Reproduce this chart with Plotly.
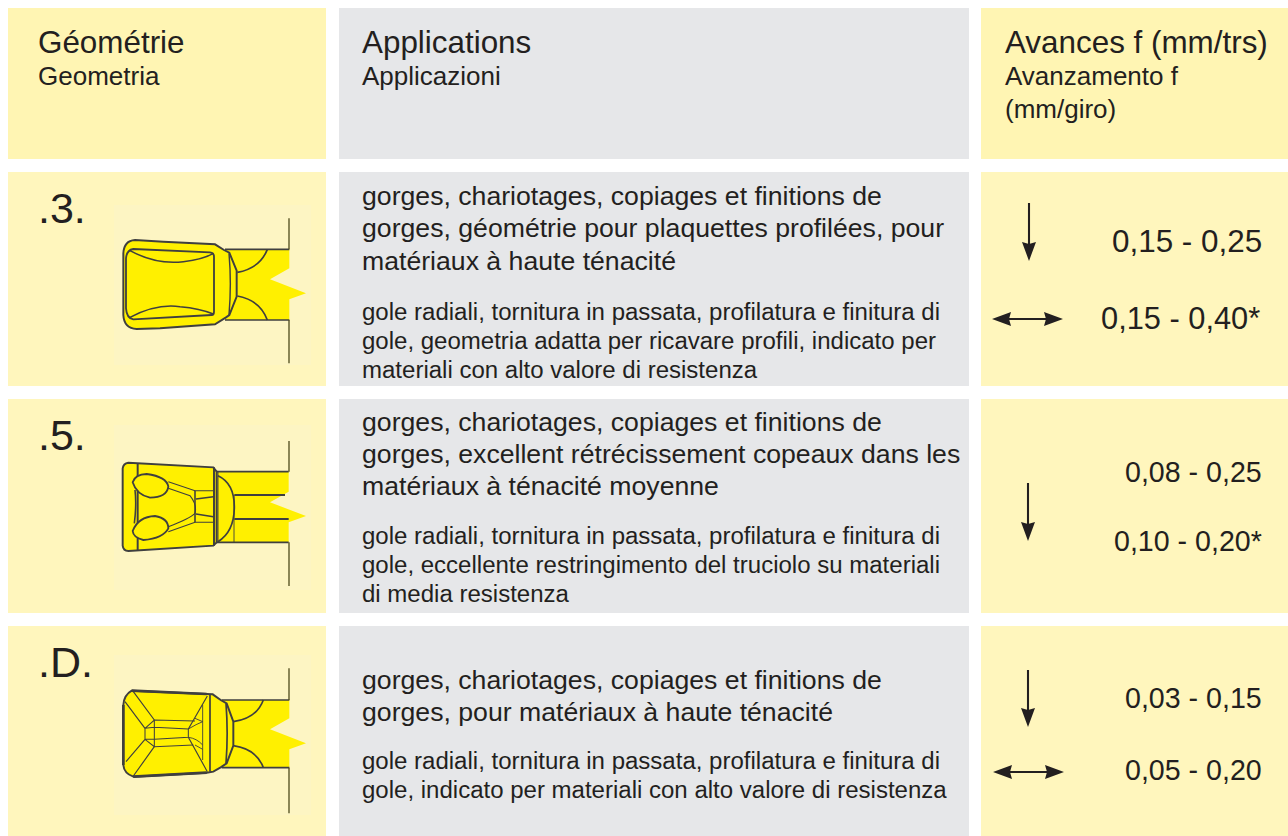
import re
import plotly.graph_objects as go

FONT = "Liberation Sans"
INK = "#231f20"
HEAD_YELLOW = "#fff5b3"
CELL_YELLOW = "#fff6bd"
CELL_GREY = "#e6e7e9"
BACKDROP = "#fdf5c3"
METAL = "#fff000"
LINE = "#3f3f3f"
STEM = "#4f4a1c"
CLEAR = "rgba(0,0,0,0)"
WEIGHT = 1.3

# table content
column_x = [(8, 326), (339, 969), (981, 1288)]
row_y = [(8, 159), (172, 386), (399, 613), (626, 836)]
column_fill = [CELL_YELLOW, CELL_GREY, CELL_YELLOW]

header_titles = ["Géométrie", "Applications", "Avances f (mm/trs)"]
header_title_x = [37, 361, 1004]
header_subtitles = [(37, 76, "Geometria"), (361, 76, "Applicazioni"),
                    (1004, 76, "Avanzamento f"), (1004, 109, "(mm/giro)")]

geometry_codes = [".3.", ".5.", ".D."]
geometry_code_y = [208, 435, 662]

french_text = [
    [(196, "gorges, chariotages, copiages et finitions de"),
     (228, "gorges, géométrie pour plaquettes profilées, pour"),
     (261, "matériaux à haute ténacité")],
    [(422, "gorges, chariotages, copiages et finitions de"),
     (454, "gorges, excellent rétrécissement copeaux dans les"),
     (486, "matériaux à ténacité moyenne")],
    [(680, "gorges, chariotages, copiages et finitions de"),
     (712, "gorges, pour matériaux à haute ténacité")],
]
italian_text = [
    [(311, "gole radiali, tornitura in passata, profilatura e finitura di"),
     (340, "gole, geometria adatta per ricavare profili, indicato per"),
     (369, "materiali con alto valore di resistenza")],
    [(535, "gole radiali, tornitura in passata, profilatura e finitura di"),
     (564, "gole, eccellente restringimento del truciolo su materiali"),
     (593, "di media resistenza")],
    [(760, "gole radiali, tornitura in passata, profilatura e finitura di"),
     (789, "gole, indicato per materiali con alto valore di resistenza")],
]
feed_labels = ["0,15 - 0,25", "0,15 - 0,40*", "0,08 - 0,25", "0,10 - 0,20*", "0,03 - 0,15", "0,05 - 0,20"]
feed_y = [241, 318, 472, 541, 698, 770]
feed_right = [1263, 1261, 1263, 1263, 1263, 1263]
feed_size = [31.4, 30.8, 28.6, 28.6, 28.6, 28.6]

down_arrows = [(1029, 203, 261), (1028, 483, 541), (1028, 670, 727)]
side_arrows = [(992, 1063, 319), (993, 1064, 772)]


def local(ox, oy, path):
    """Map a path drawn in 3x local units onto the page."""
    out, is_x = [], True
    for tok in re.findall(r"[A-Za-z]|-?\d+\.?\d*", path):
        if tok.isalpha():
            out.append(tok)
        else:
            v = float(tok) / 3 + (ox if is_x else oy)
            out.append(f"{v:.2f}")
            is_x = not is_x
    return " ".join(out)


shapes = []


def area(path, fill, line=None, width=0):
    shapes.append(dict(type="path", path=path, fillcolor=fill, xref="x", yref="y",
                       line=dict(color=line or fill, width=width * WEIGHT)))


def stroke(path, width=1.2, color=LINE):
    shapes.append(dict(type="path", path=path, xref="x", yref="y", fillcolor=CLEAR,
                       line=dict(color=color, width=width * WEIGHT)))


def rect(x0, y0, x1, y1, fill):
    shapes.append(dict(type="rect", x0=x0, x1=x1, y0=y0, y1=y1, xref="x", yref="y",
                       fillcolor=fill, line=dict(width=0)))


for i, (y0, y1) in enumerate(row_y):
    for (x0, x1), fill in zip(column_x, column_fill):
        rect(x0, y0, x1, y1, HEAD_YELLOW if (i == 0 and fill == CELL_YELLOW) else fill)

# backdrops behind the insert drawings
rect(114, 205, 311, 365, BACKDROP)
rect(114, 425, 311, 590, BACKDROP)
rect(114, 655, 311, 815, BACKDROP)

# --- insert .3.
o = (100, 200)
area(local(*o, "M 375 148 L 568 148 L 568 205 L 510 238 L 618 280 L 568 298 L 568 360 L 375 360 Z"), METAL)
stroke(local(*o, "M 375 148 L 568 148 M 375 360 L 568 360"), 1.3)
stroke(local(*o, "M 567 55 L 567 148 M 567 360 L 567 490"), 1.0, STEM)
area(local(*o, "M 105 120 Q 72 122 70 160 L 70 345 Q 72 385 110 387 L 180 385 L 345 373 L 378 352 L 388 345 L 410 290 L 410 212 L 388 158 L 372 150 L 345 133 L 190 125 Z"), METAL, LINE, 1.5)
stroke(local(*o, "M 412 217 Q 480 205 502 148 M 412 288 Q 480 300 502 360"), 1.3)
stroke(local(*o, "M 387 160 Q 395 250 387 345"), 1.1)
stroke(local(*o, "M 100 147 Q 80 150 78 175 L 78 325 Q 80 355 100 358 L 335 345 Q 342 345 342 335 L 342 170 Q 342 158 330 157 Z"), 1.4)
stroke(local(*o, "M 90 152 Q 170 195 250 185 Q 310 178 340 160 M 90 352 Q 170 310 240 320 Q 300 325 340 342"), 1.2)

# --- insert .5.
o = (100, 425)
area(local(*o, "M 350 140 L 566 140 L 566 200 L 510 232 L 618 273 L 566 292 L 566 352 L 350 352 Z"), METAL)
stroke(local(*o, "M 350 140 L 566 140 M 350 352 L 566 352"), 1.3)
stroke(local(*o, "M 403 210 L 555 210 M 403 282 L 566 282"), 1.4)
stroke(local(*o, "M 567 48 L 567 140 M 567 352 L 567 483"), 1.0, STEM)
area(local(*o, "M 85 113 Q 70 115 68 130 L 68 362 Q 70 378 85 378 L 340 362 L 350 352 L 350 140 L 340 127 Z"), METAL, LINE, 1.5)
stroke(local(*o, "M 113 115 L 113 376 M 342 127 L 342 362"), 1.5)
stroke(local(*o, "M 354 140 L 354 352 M 402 210 L 402 352"), 0.7)
stroke(local(*o, "M 354 152 Q 403 175 403 245 Q 403 320 354 350"), 1.3)
area(local(*o, "M 98 172 Q 105 148 140 147 Q 200 155 205 185 Q 200 218 150 218 Q 110 210 98 172 Z"), METAL, LINE, 1.4)
area(local(*o, "M 98 318 Q 115 275 165 273 Q 205 280 205 310 Q 190 340 130 345 Q 100 338 98 318 Z"), METAL, LINE, 1.4)
stroke(local(*o, "M 205 170 L 285 197 L 340 197 M 205 190 L 270 212 Q 292 240 285 265 Q 270 280 205 305 M 205 320 L 285 292 L 340 292"), 0.8)
stroke(local(*o, "M 285 197 L 285 292 M 288 222 L 340 215 M 288 267 L 340 275"), 1.2)
stroke(local(*o, "M 105 195 Q 110 240 103 295"), 1.2)

# --- insert .D.
o = (100, 650)
area(local(*o, "M 365 150 L 568 150 L 568 205 L 510 238 L 618 280 L 568 298 L 568 353 L 365 353 Z"), METAL)
stroke(local(*o, "M 365 150 L 568 150 M 365 353 L 568 353"), 1.3)
stroke(local(*o, "M 567 55 L 567 150 M 567 353 L 567 490"), 1.0, STEM)
area(local(*o, "M 95 122 Q 72 135 70 165 L 70 345 Q 72 370 100 380 L 320 368 L 340 365 L 362 352 L 380 340 L 400 287 L 400 215 L 380 160 L 362 150 L 338 133 L 320 132 Z"), METAL, LINE, 1.5)
stroke(local(*o, "M 95 122 L 320 132 M 70 165 L 70 345 M 100 380 L 320 368"), 2.0)
stroke(local(*o, "M 400 215 Q 470 205 490 150 M 400 287 Q 470 297 490 353"), 1.3)
stroke(local(*o, "M 330 135 L 330 365 M 378 160 Q 385 250 378 340"), 1.3)
stroke(local(*o, "M 100 125 L 163 210 M 75 155 L 135 235 M 78 335 L 135 268 M 100 378 L 163 290 M 322 138 L 265 237 M 322 365 L 265 262"), 0.9)
stroke(local(*o, "M 135 235 L 163 210 L 285 213 M 135 268 L 163 290 L 280 285 M 135 235 L 135 268 M 163 210 L 163 290 M 163 232 L 265 237 L 265 262 L 163 268 M 135 235 L 163 232 M 135 268 L 163 268"), 0.8)
stroke(local(*o, "M 265 237 Q 290 222 308 215 M 265 262 Q 290 265 308 285 M 285 205 L 308 215 M 285 285 L 308 298 M 308 165 L 308 330"), 0.7)

# --- feed direction arrows
for x, y0, y1 in down_arrows:
    stroke(f"M {x} {y0} L {x} {y1 - 12}", 1.6, INK)
    area(f"M {x - 7} {y1 - 19} L {x} {y1 - 17} L {x + 7} {y1 - 19} L {x} {y1} Z", INK)
for x0, x1, y in side_arrows:
    stroke(f"M {x0 + 12} {y} L {x1 - 12} {y}", 1.6, INK)
    area(f"M {x0} {y} L {x0 + 19} {y - 7} L {x0 + 17} {y} L {x0 + 19} {y + 7} Z", INK)
    area(f"M {x1} {y} L {x1 - 19} {y - 7} L {x1 - 17} {y} L {x1 - 19} {y + 7} Z", INK)

annotations = []


def label(x, y, text, size, anchor="left"):
    annotations.append(dict(x=x, y=y, text=text, xref="x", yref="y", showarrow=False,
                            xanchor=anchor, yanchor="middle", align=anchor, borderpad=0,
                            font=dict(family=FONT, size=size, color=INK)))


for x, text in zip(header_title_x, header_titles):
    label(x, 42, text, 31.4)
for x, y, text in header_subtitles:
    label(x, y, text, 26)
for y, code in zip(geometry_code_y, geometry_codes):
    label(37, y, code, 43)
for block in french_text:
    for y, text in block:
        label(361, y, text, 26.65)
for block in italian_text:
    for y, text in block:
        label(361, y, text, 24.03)
for y, r, size, text in zip(feed_y, feed_right, feed_size, feed_labels):
    label(r, y, text, size, "right")

fig = go.Figure()
fig.update_layout(
    width=1288, height=836, margin=dict(l=0, r=0, t=0, b=0),
    paper_bgcolor="white", plot_bgcolor="white", showlegend=False,
    xaxis=dict(range=[0, 1288], visible=False, fixedrange=True),
    yaxis=dict(range=[836, 0], visible=False, fixedrange=True),
    shapes=shapes, annotations=annotations,
)
fig.write_html("out.html", config=dict(displayModeBar=False),
               post_script="document.body.style.margin='0';document.documentElement.style.overflow='hidden';")
